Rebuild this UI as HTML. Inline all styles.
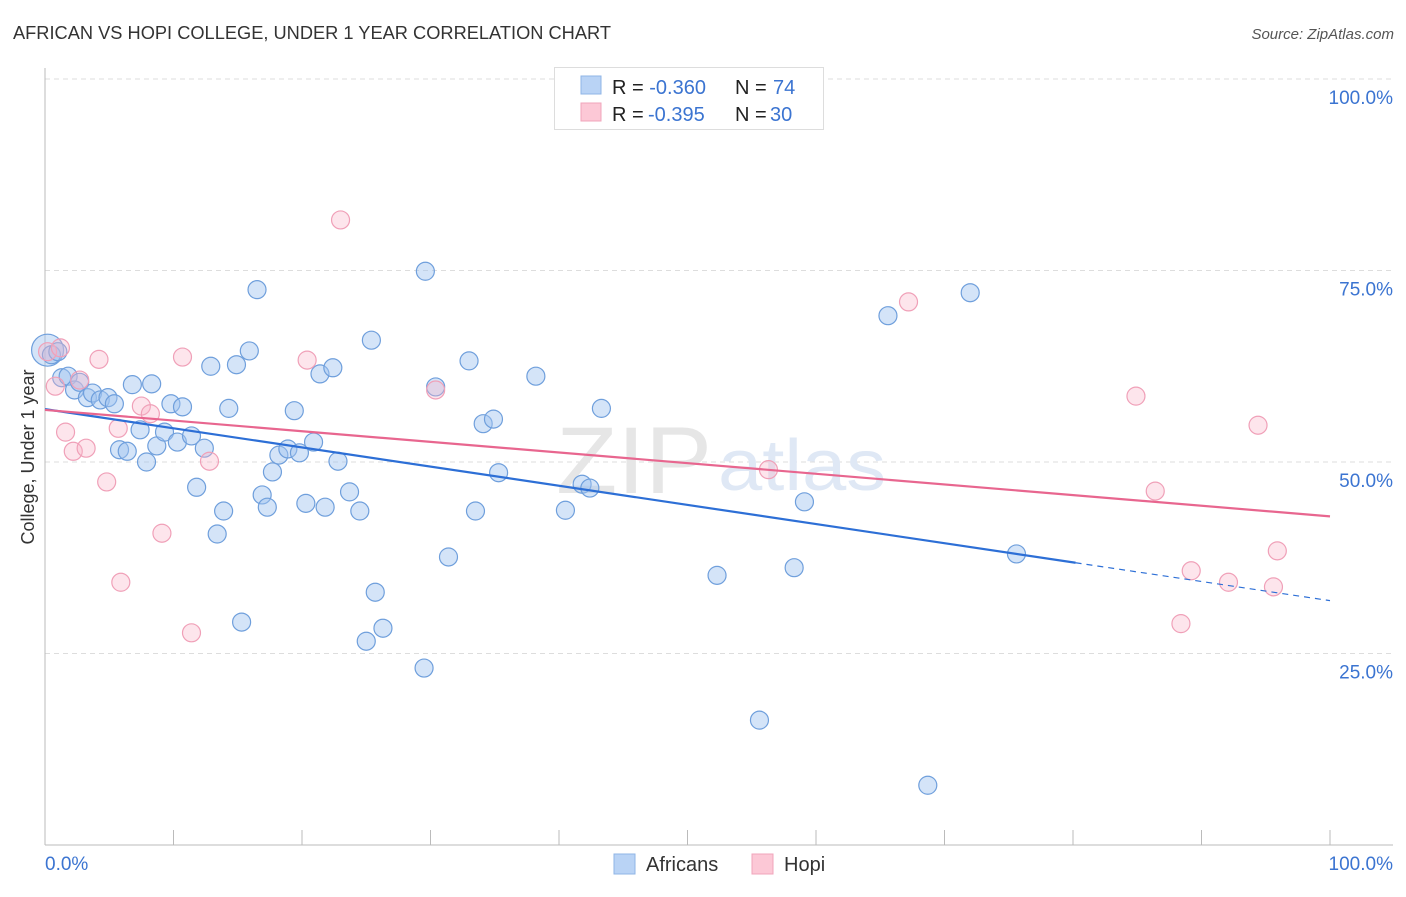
<!DOCTYPE html>
<html><head><meta charset="utf-8"><style>
body{margin:0;background:#fff;font-family:"Liberation Sans",sans-serif;}
svg text{font-family:"Liberation Sans",sans-serif;}
</style></head><body>
<svg id="chart" width="1406" height="892" viewBox="0 0 1406 892" xmlns="http://www.w3.org/2000/svg">
<text x="13" y="39" font-size="18" fill="#333" textLength="598" lengthAdjust="spacingAndGlyphs">AFRICAN VS HOPI COLLEGE, UNDER 1 YEAR CORRELATION CHART</text>
<text x="1394" y="39" font-size="15" fill="#555" font-style="italic" text-anchor="end">Source: ZipAtlas.com</text>
<text x="34" y="457" font-size="18" fill="#333" text-anchor="middle" transform="rotate(-90 34 457)">College, Under 1 year</text>
<g id="grid"></g>
<g id="axes"></g>
<text x="556" y="493" font-size="95" fill="#e6e6e6" font-family="Liberation Serif" textLength="156" lengthAdjust="spacingAndGlyphs">ZIP</text>
<text x="718" y="490" font-size="72" fill="#dfe8f5" textLength="168" lengthAdjust="spacingAndGlyphs">atlas</text>
<g id="pts"></g>
<g id="lines"></g>
<g>
<rect x="554.5" y="67.5" width="269" height="62" fill="#fff" stroke="#ddd"/>
<rect x="581" y="76" width="20" height="18" fill="#b9d3f5" stroke="#8fb4e6"/>
<rect x="581" y="103" width="20" height="18" fill="#fcc8d6" stroke="#f0a5bb"/>
<text x="612" y="94" font-size="20" fill="#222">R = <tspan fill="#3b74d1">-0.360</tspan><tspan x="735">N = </tspan><tspan fill="#3b74d1" x="773">74</tspan></text>
<text x="612" y="121" font-size="20" fill="#222">R = <tspan fill="#3b74d1" x="648">-0.395</tspan><tspan x="735">N = </tspan><tspan fill="#3b74d1" x="770">30</tspan></text>
</g>
<g>
<rect x="614" y="854" width="21" height="20" fill="#b9d3f5" stroke="#8fb4e6"/>
<text x="646" y="871" font-size="20" fill="#333">Africans</text>
<rect x="752" y="854" width="21" height="20" fill="#fcc8d6" stroke="#f0a5bb"/>
<text x="784" y="871" font-size="20" fill="#333">Hopi</text>
</g>
</svg>
<script>
const blueX=[0.2,0.5,1.0,1.3,1.8,2.3,2.7,3.3,3.7,4.3,4.9,5.4,5.8,6.4,6.8,7.4,7.9,8.3,8.7,9.3,9.8,10.3,10.7,11.4,11.8,12.4,12.9,13.4,13.9,14.3,14.9,15.3,15.9,16.5,16.9,17.3,17.7,18.2,18.9,19.4,19.8,20.3,20.9,21.4,21.8,22.4,22.8,23.7,24.5,25.4,25.7,26.3,25.0,29.6,29.5,30.4,31.4,33.0,33.5,34.1,34.9,35.3,38.2,40.5,41.8,42.4,43.3,52.3,55.6,58.3,59.1,65.6,68.7,72.0,75.6];
const blueY=[64.6,64.0,64.4,61.0,61.2,59.4,60.4,58.4,59.0,58.1,58.4,57.6,51.6,51.4,60.1,54.2,50.0,60.2,52.1,53.9,57.6,52.6,57.2,53.4,46.7,51.8,62.5,40.6,43.6,57.0,62.7,29.1,64.5,72.5,45.7,44.1,48.7,50.9,51.7,56.7,51.2,44.6,52.6,61.5,44.1,62.3,50.1,46.1,43.6,65.9,33.0,28.3,26.6,74.9,23.1,59.8,37.6,63.2,43.6,55.0,55.6,48.6,61.2,43.7,47.1,46.6,57.0,35.2,16.3,36.2,44.8,69.1,7.8,72.1,38.0];
const pinkX=[0.2,0.8,1.2,1.6,2.2,2.7,3.2,4.2,4.8,5.7,5.9,7.5,8.2,9.1,10.7,11.4,12.8,20.4,23.0,30.4,56.3,67.2,84.9,86.4,88.4,89.2,92.1,94.4,95.6,95.9];
const pinkY=[64.4,59.9,64.9,53.9,51.4,60.7,51.8,63.4,47.4,54.4,34.3,57.3,56.3,40.7,63.7,27.7,50.1,63.3,81.6,59.4,49.0,70.9,58.6,46.2,28.9,35.8,34.3,54.8,33.7,38.4];
const blueTrend=[56.9,31.9];
const blueSolidEnd=80.2;
const pinkTrend=[56.8,42.9];
const yTicks=[100,75,50,25];
const yTickLabels=["100.0%","75.0%","50.0%","25.0%"];
const xTicks=[10,20,30,40,50,60,70,80,90,100];
const xLabels=["0.0%","100.0%"];

const NS="http://www.w3.org/2000/svg";
const X=v=>45+v*12.85, Y=v=>845-v*7.66;
function mk(p,t,a){const e=document.createElementNS(NS,t);for(const k in a)e.setAttribute(k,a[k]);p.appendChild(e);return e;}
const grid=document.getElementById('grid'),axes=document.getElementById('axes'),pts=document.getElementById('pts'),lines=document.getElementById('lines');
yTicks.forEach((t,i)=>{
 const l=mk(grid,'line',{x1:45,x2:1393,y1:Y(t),y2:Y(t),stroke:'#ddd','stroke-dasharray':'5,4'});
 
 
 const tx=mk(axes,'text',{x:1393,y:Y(t)+25,'font-size':19,fill:'#3b74d1','text-anchor':'end'});tx.textContent=yTickLabels[i];
 
 
});
mk(axes,'line',{x1:45,x2:45,y1:68,y2:845,stroke:'#bbb'});
mk(axes,'line',{x1:45,x2:1393,y1:845,y2:845,stroke:'#bbb'});
xTicks.forEach(t=>{const l=mk(axes,'line',{x1:X(t),x2:X(t),y1:830,y2:845,stroke:'#bbb'});
 
 });
[[0,'start',45],[100,'end',1393]].forEach((d,i)=>{const tx=mk(axes,'text',{x:d[2],y:870,'font-size':19,fill:'#3b74d1','text-anchor':d[1]});tx.textContent=xLabels[i];
 
 });
blueX.forEach((x,i)=>{const c=mk(pts,'circle',{cx:X(x),cy:Y(blueY[i]),r:i==0?16:9,fill:'rgba(160,196,240,0.45)',stroke:'#6f9fdc','stroke-width':1.2});
 
 });
pinkX.forEach((x,i)=>{const c=mk(pts,'circle',{cx:X(x),cy:Y(pinkY[i]),r:9,fill:'rgba(248,180,200,0.35)',stroke:'#f0a0b8','stroke-width':1.2});
 
 });
const by=x=>blueTrend[0]+(blueTrend[1]-blueTrend[0])*x/100;
let l1=mk(lines,'line',{x1:X(0),y1:Y(by(0)),x2:X(blueSolidEnd),y2:Y(by(blueSolidEnd)),stroke:'#2d6fd6','stroke-width':2.2});


let l2=mk(lines,'line',{x1:X(blueSolidEnd),y1:Y(by(blueSolidEnd)),x2:X(100),y2:Y(by(100)),stroke:'#2d6fd6','stroke-width':1.2,'stroke-dasharray':'6,5'});


let l3=mk(lines,'line',{x1:X(0),y1:Y(pinkTrend[0]),x2:X(100),y2:Y(pinkTrend[1]),stroke:'#e8668f','stroke-width':2.2});


</script>
</body></html>
